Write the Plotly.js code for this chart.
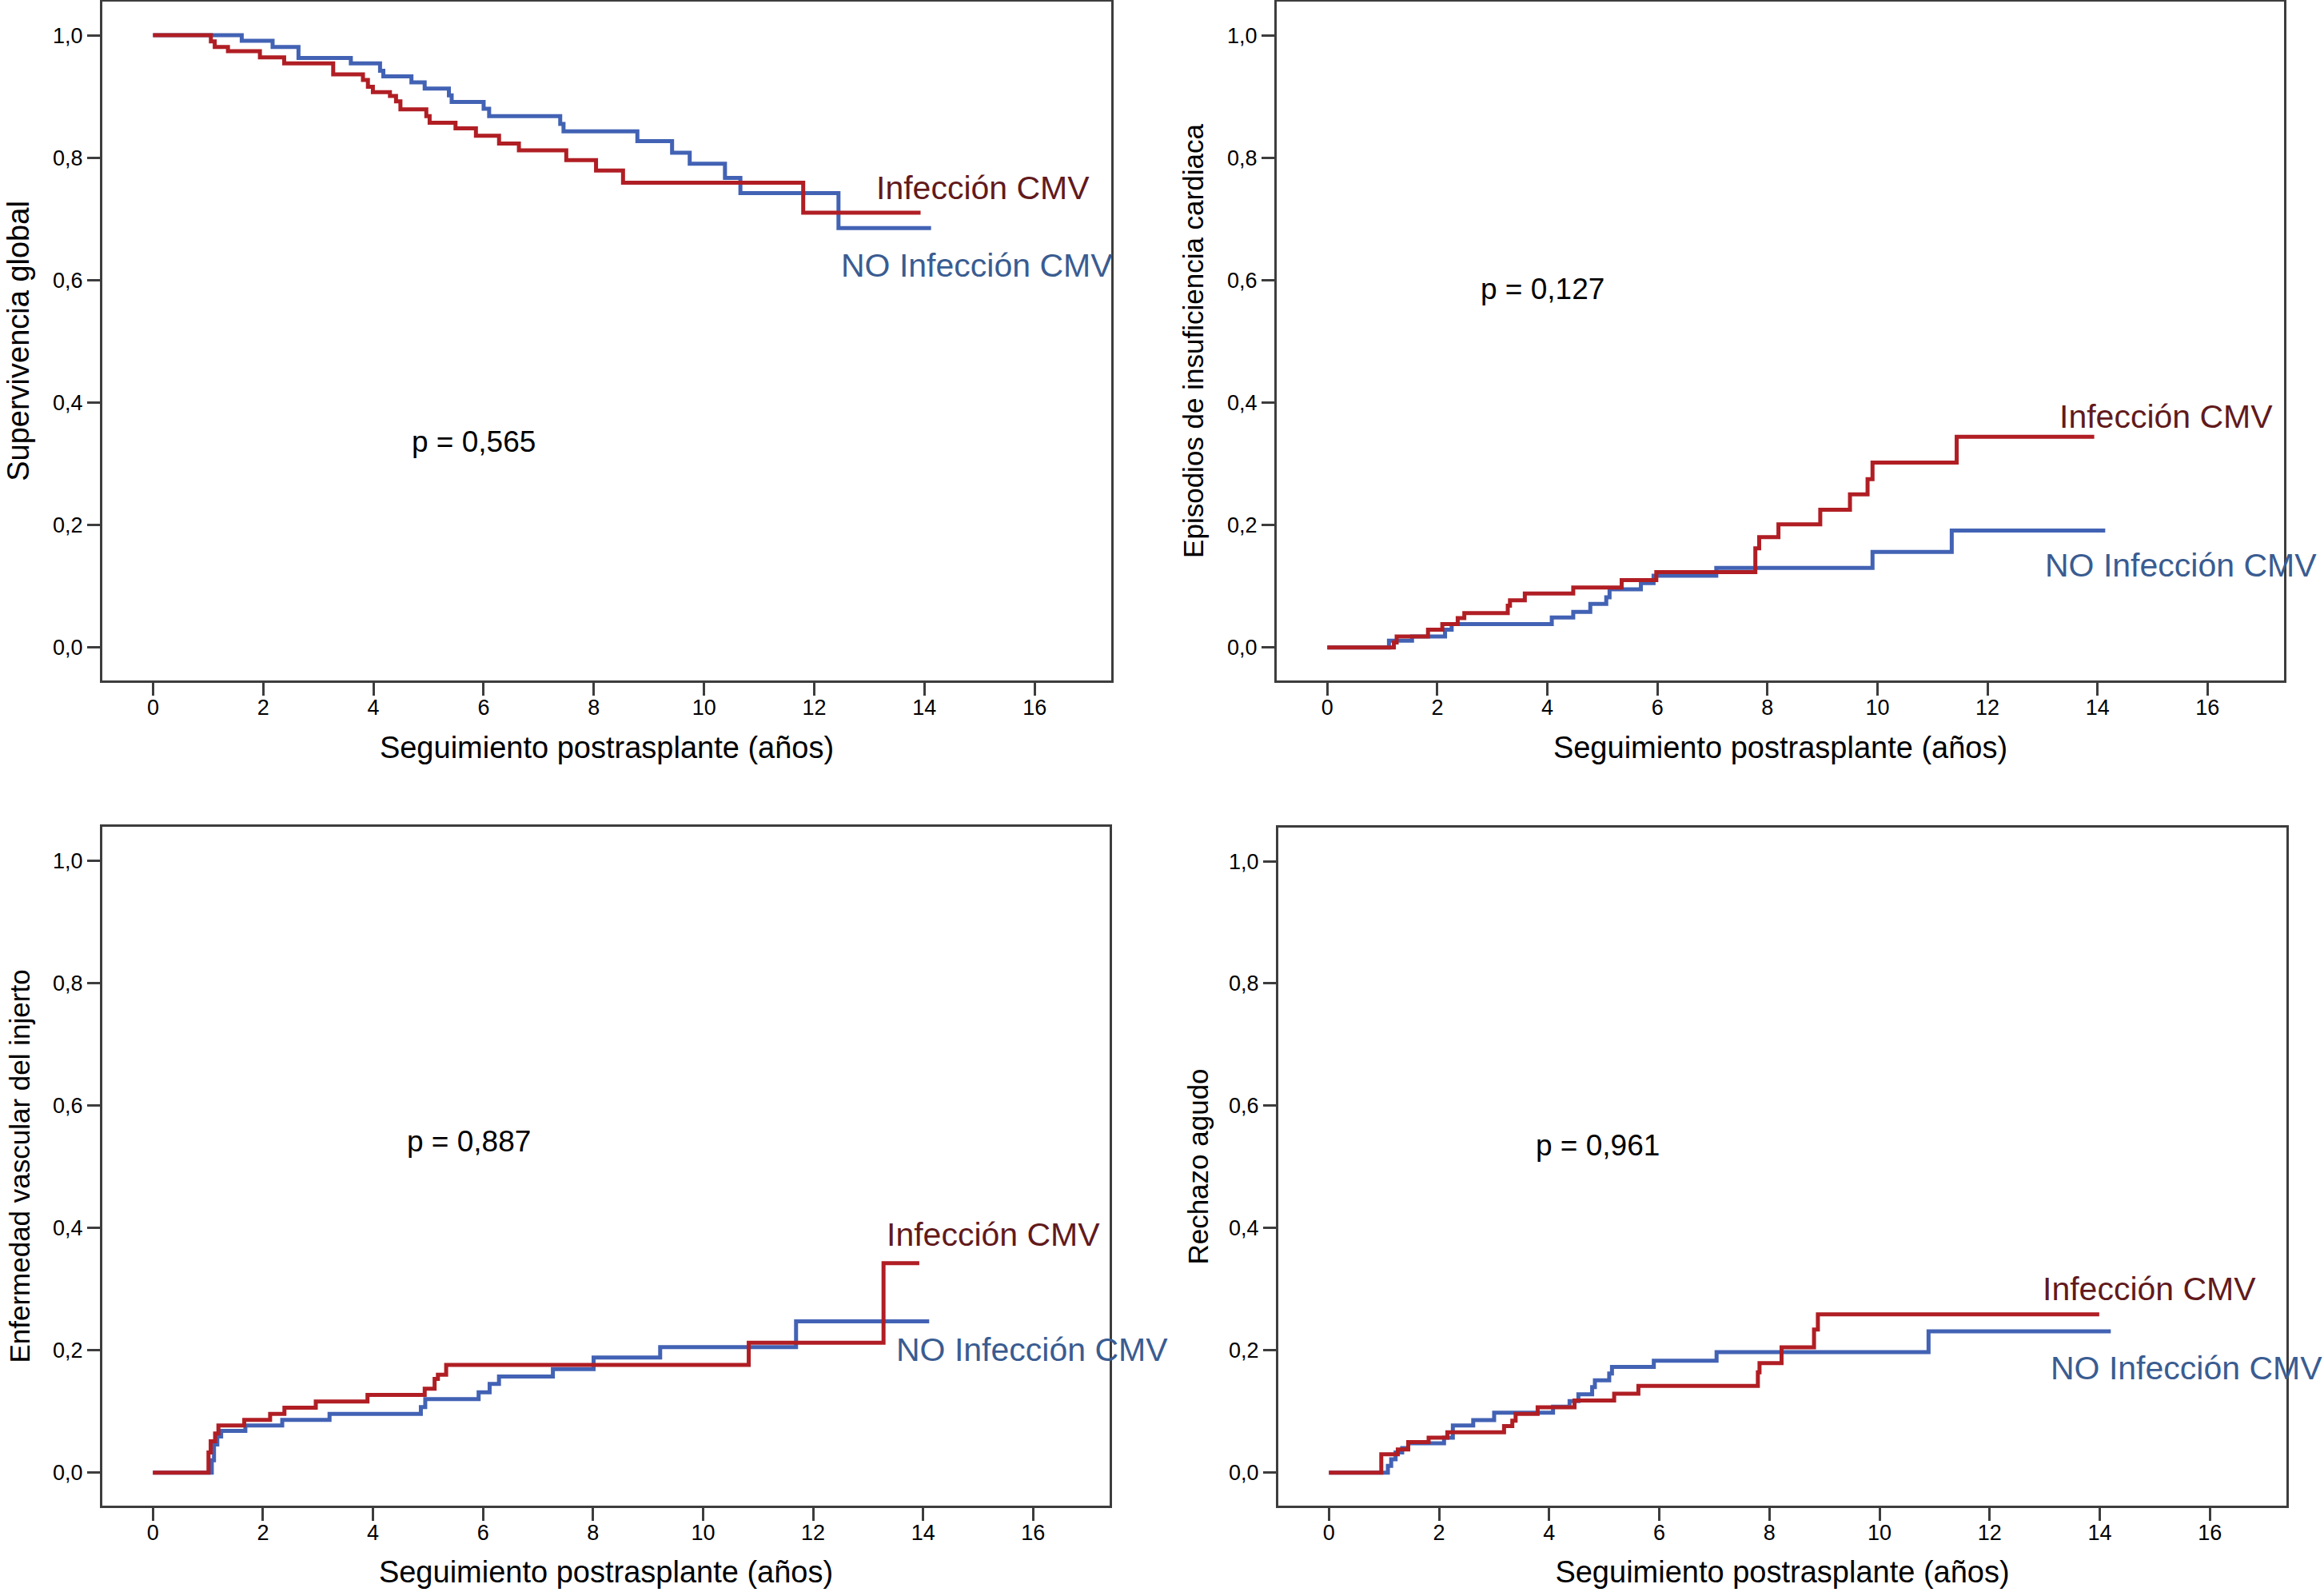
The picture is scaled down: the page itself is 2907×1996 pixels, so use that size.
<!DOCTYPE html>
<html>
<head>
<meta charset="utf-8">
<script src="https://cdn.plot.ly/plotly-3.0.1.min.js"></script>
<style>html,body{margin:0;padding:0;background:#fff;}#chart{width:2907px;height:1996px;}</style>
</head>
<body>
<div id="chart"></div>
<script>
// ---------- Data (years, estimated proportion) ----------
// Panel 1: Supervivencia global
const survT_cmv = [0, 1.05, 1.12, 1.36, 1.94, 2.38, 3.27, 3.81, 3.90, 3.99, 4.30, 4.41, 4.49, 4.96, 5.02, 5.49, 5.86, 6.28, 6.64, 7.50, 8.04, 8.53, 11.80, 13.93];
const survV_cmv = [1.0, 0.990, 0.981, 0.974, 0.964, 0.954, 0.936, 0.927, 0.916, 0.907, 0.901, 0.892, 0.879, 0.868, 0.857, 0.848, 0.836, 0.823, 0.812, 0.796, 0.779, 0.759, 0.710, 0.710];
const survT_no = [0, 1.61, 2.17, 2.64, 3.59, 4.12, 4.18, 4.69, 4.93, 5.37, 5.42, 6.00, 6.10, 7.39, 7.45, 8.79, 9.42, 9.74, 10.38, 10.66, 12.44, 14.12];
const survV_no = [1.0, 0.991, 0.981, 0.963, 0.954, 0.942, 0.933, 0.923, 0.913, 0.902, 0.891, 0.880, 0.868, 0.855, 0.843, 0.827, 0.808, 0.790, 0.767, 0.742, 0.685, 0.685];

// Panel 2: Episodios de insuficiencia cardiaca
const icT_cmv = [0, 1.21, 1.26, 1.83, 2.09, 2.37, 2.49, 3.28, 3.32, 3.59, 4.47, 5.35, 5.98, 7.78, 7.85, 8.20, 8.96, 9.50, 9.82, 9.91, 11.44, 13.94];
const icV_cmv = [0, 0.008, 0.018, 0.029, 0.038, 0.048, 0.056, 0.068, 0.077, 0.088, 0.098, 0.110, 0.123, 0.162, 0.180, 0.201, 0.225, 0.250, 0.275, 0.302, 0.344, 0.344];
const icT_no = [0, 1.12, 1.54, 2.14, 2.26, 4.08, 4.47, 4.78, 5.07, 5.13, 5.70, 5.93, 7.07, 9.91, 11.35, 14.14];
const icV_no = [0, 0.011, 0.018, 0.029, 0.038, 0.049, 0.058, 0.071, 0.082, 0.095, 0.105, 0.117, 0.130, 0.156, 0.191, 0.191];

// Panel 3: Enfermedad vascular del injerto
const evT_cmv = [0, 1.01, 1.05, 1.13, 1.19, 1.66, 2.13, 2.39, 2.96, 3.90, 4.94, 5.12, 5.18, 5.33, 10.83, 13.28, 13.93];
const evV_cmv = [0, 0.033, 0.051, 0.064, 0.077, 0.086, 0.096, 0.106, 0.116, 0.127, 0.137, 0.153, 0.160, 0.176, 0.212, 0.342, 0.342];
const evT_no = [0, 1.07, 1.11, 1.17, 1.24, 1.68, 2.35, 3.21, 4.87, 4.95, 5.92, 6.12, 6.29, 7.27, 8.01, 9.22, 11.69, 14.11];
const evV_no = [0, 0.020, 0.046, 0.059, 0.068, 0.077, 0.086, 0.096, 0.107, 0.120, 0.131, 0.145, 0.157, 0.169, 0.188, 0.205, 0.247, 0.247];

// Panel 4: Rechazo agudo
const raT_cmv = [0, 0.95, 1.25, 1.44, 1.81, 2.15, 3.18, 3.33, 3.39, 3.79, 4.46, 5.18, 5.62, 7.79, 7.82, 8.22, 8.81, 8.88, 13.99];
const raV_cmv = [0, 0.030, 0.038, 0.050, 0.057, 0.066, 0.076, 0.085, 0.096, 0.107, 0.118, 0.129, 0.142, 0.164, 0.179, 0.205, 0.234, 0.259, 0.259];
const raT_no = [0, 1.07, 1.13, 1.21, 1.33, 1.44, 2.09, 2.25, 2.62, 3.00, 4.07, 4.37, 4.53, 4.78, 4.83, 5.09, 5.14, 5.90, 7.04, 10.89, 14.20];
const raV_no = [0, 0.011, 0.022, 0.033, 0.040, 0.048, 0.057, 0.077, 0.086, 0.098, 0.108, 0.117, 0.128, 0.140, 0.151, 0.162, 0.173, 0.183, 0.197, 0.231, 0.231];

// Tick labels and texts
const xTickVals = [0, 2, 4, 6, 8, 10, 12, 14, 16];
const yTickVals = [0, 0.2, 0.4, 0.6, 0.8, 1.0];
const yTickText = ['0,0', '0,2', '0,4', '0,6', '0,8', '1,0'];
const xTitle = 'Seguimiento postrasplante (años)';
const yTitles = ['Supervivencia global', 'Episodios de insuficiencia cardiaca', 'Enfermedad vascular del injerto', 'Rechazo agudo'];
const pValues = ['p = 0,565', 'p = 0,127', 'p = 0,887', 'p = 0,961'];
const seriesNames = ['Infección CMV', 'NO Infección CMV'];

// ---------- Styling ----------
const W = 2907, H = 1996;
const RED = '#b01e24', BLUE = '#4262b4';
const RED_TXT = '#621a1c', BLUE_TXT = '#3a5c91';
const FRAME = '#3d3d3d';
const FONT = 'Liberation Sans, Arial, Helvetica, sans-serif';

const panels = [
  {T: [survT_no, survT_cmv], V: [survV_no, survV_cmv], dx: [128, 1390], dy: [2, 851], yfs: 38, ysd: 18},
  {T: [icT_no, icT_cmv], V: [icV_no, icV_cmv], dx: [1597, 2857], dy: [2, 851], yfs: 35, ysd: 19},
  {T: [evT_no, evT_cmv], V: [evV_no, evV_cmv], dx: [128, 1388], dy: [1034, 1883], yfs: 35, ysd: 18},
  {T: [raT_no, raT_cmv], V: [raV_no, raV_cmv], dx: [1599, 2860], dy: [1035, 1883], yfs: 35, ysd: 15}
];

const traces = [];
const layout = {
  width: W, height: H,
  margin: {l: 0, r: 0, t: 0, b: 0},
  paper_bgcolor: '#ffffff', plot_bgcolor: '#ffffff',
  showlegend: false,
  font: {family: FONT, color: '#000'},
  annotations: []
};

panels.forEach((p, i) => {
  const n = i + 1;
  const xa = 'x' + (n === 1 ? '' : n), ya = 'y' + (n === 1 ? '' : n);
  traces.push({x: p.T[0], y: p.V[0], xaxis: xa, yaxis: ya, type: 'scatter', mode: 'lines',
    name: seriesNames[1], line: {shape: 'hv', color: BLUE, width: 5}, hoverinfo: 'x+y'});
  traces.push({x: p.T[1], y: p.V[1], xaxis: xa, yaxis: ya, type: 'scatter', mode: 'lines',
    name: seriesNames[0], line: {shape: 'hv', color: RED, width: 5}, hoverinfo: 'x+y'});
  const common = {
    showgrid: false, zeroline: false, showline: true, mirror: true,
    linecolor: FRAME, linewidth: 3, ticks: 'outside', ticklen: 16, tickwidth: 3, tickcolor: FRAME,
    tickfont: {family: FONT, size: 27, color: '#000'}
  };
  layout['xaxis' + (n === 1 ? '' : n)] = Object.assign({}, common, {
    domain: [p.dx[0] / W, p.dx[1] / W], anchor: ya,
    range: [-0.92, 17.39], tickmode: 'array', tickvals: xTickVals,
    ticklabelstandoff: -8,
    title: {text: xTitle, font: {family: FONT, size: 38, color: '#000'}, standoff: 22}
  });
  layout['yaxis' + (n === 1 ? '' : n)] = Object.assign({}, common, {
    domain: [1 - p.dy[1] / H, 1 - p.dy[0] / H], anchor: xa,
    range: [-0.054, 1.055], tickmode: 'array', tickvals: yTickVals, ticktext: yTickText,
    title: {text: yTitles[i], font: {family: FONT, size: p.yfs, color: '#000'}, standoff: p.ysd}
  });
});

// In-plot texts (pixel positions converted to paper coords)
const texts = [
  [pValues[0], 513, 552, '#000', 37], [seriesNames[0], 1094, 235, RED_TXT, 41], [seriesNames[1], 1050, 332, BLUE_TXT, 41],
  [pValues[1], 1850, 361, '#000', 37], [seriesNames[0], 2574, 521, RED_TXT, 41], [seriesNames[1], 2556, 707, BLUE_TXT, 41],
  [pValues[2], 507, 1427, '#000', 37], [seriesNames[0], 1107, 1544, RED_TXT, 41], [seriesNames[1], 1119, 1688, BLUE_TXT, 41],
  [pValues[3], 1919, 1432, '#000', 37], [seriesNames[0], 2553, 1612, RED_TXT, 41], [seriesNames[1], 2563, 1711, BLUE_TXT, 41]
];
texts.forEach(t => {
  layout.annotations.push({text: t[0], xref: 'paper', yref: 'paper', x: t[1] / W, y: 1 - t[2] / H,
    xanchor: 'left', yanchor: 'middle', showarrow: false, font: {family: FONT, size: t[4], color: t[3]}});
});

Plotly.newPlot('chart', traces, layout, {displayModeBar: false, staticPlot: true});
</script>
</body>
</html>
